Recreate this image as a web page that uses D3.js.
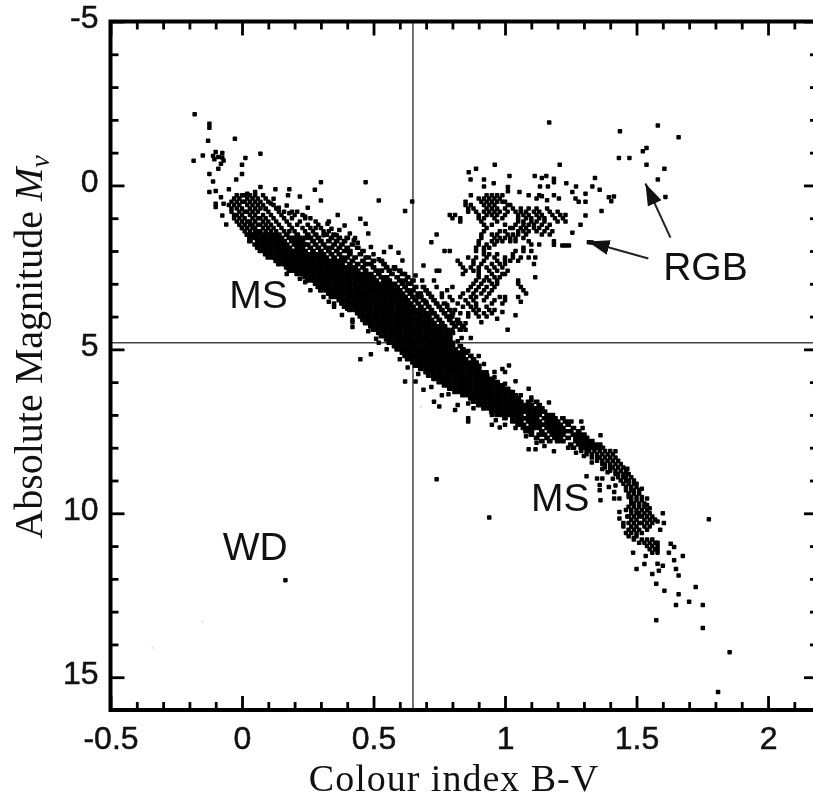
<!DOCTYPE html>
<html>
<head>
<meta charset="utf-8">
<script src="https://cdn.jsdelivr.net/npm/d3@7"></script>
<style>
html,body{margin:0;padding:0;background:#fff;overflow:hidden}
svg{display:block;filter:blur(0.45px)}
text{fill:#111}
</style>
</head>
<body>
<svg id="chart" width="813" height="801"></svg>
<script>
// Tick values
const xMajorTicks = [-0.5,0,0.5,1,1.5,2];
const xMinorTicks = [-0.4,-0.3,-0.2,-0.1,0.1,0.2,0.3,0.4,0.6,0.7,0.8,0.9,1.1,1.2,1.3,1.4,1.6,1.7,1.8,1.9,2.1];
const yMajorTicks = [-5,0,5,10,15];
const yMinorTicks = [-4,-3,-2,-1,1,2,3,4,6,7,8,9,11,12,13,14];
const referenceBV = 0.65, referenceMv = 4.8;

// Isolated stars: [B-V, Mv]
const hotOutliers = [[-.18,-2.17],[-.124,-1.88],[-.124,-1.76],[-.129,-1.36],[-.027,-1.42],[-.184,-.75],[-.149,-.91],[-.10,-1.02],[-.11,-.90],[-.075,-.99],[-.09,-.87],[-.07,-.76],[-.08,-.66],[-.09,-.51],[-.075,-.85],[-.105,-.8],[.07,-.97],[.013,-.84],[0,-.63],[0,-.35],[-.022,-.18],[-.124,-.35],[-.11,-.12],[-.124,.2],[-.10,.17],[-.05,.12],[-.075,.92],[-.06,1.19],[-.10,.56],[-.10,.66],[-.08,.36],[-.07,.56]];
const upperFringe = [[.30,-.1],[.47,-.1],[.52,.46],[.647,.49],[.62,.78],[.72,1.73],[.30,.46],[.22,.34],[.277,.13],[.18,.12],[.127,.12],[.07,.05],[.175,.3],[.12,.41],[.17,.61],[.25,.68],[.364,.9],[.45,1.02],[.47,1.17],[.39,1.22],[.325,1.17],[.34,1.32],[.31,1.52],[.36,1.52],[.41,1.47],[.48,1.47],[.425,1.67],[.565,1.88],[.595,2.05],[.54,2.03],[.49,1.88],[.69,2.44],[.61,2.29],[.55,2.49],[.74,2.6],[.73,2.9],[.74,3.1],[.685,2.9],[.67,3.4],[.68,3.3]];
const lowerFringe = [[.49,5.15],[.45,5.3],[.26,3.2],[.17,2.7],[.35,3.6],[.35,3.7],[.40,3.76],[.42,4.17],[.42,4.32],[.51,4.68],[.62,5.98],[.66,5.98],[.69,6.23],[.73,6.6],[.75,6.74],[.81,6.85],[.86,7.1],[.86,7.2],[.785,6.37],[.86,6.65],[.95,7.3],[.98,7.38],[.965,7.16],[1.09,8.05],[1.116,8.05],[1.186,8.11],[.74,8.96],[.94,10.13],[.165,12.04]];
const coolTail = [[.96,5.69],[1.015,5.49],[1.0,5.69],[.99,5.6],[1.04,5.97],[1.09,6.2],[1.1,6.47],[1.167,6.62],[1.29,7.2],[1.295,7.4],[1.363,7.62],[1.42,8.11],[1.465,8.64],[1.465,8.8],[1.31,8.87],[1.35,8.94],[1.37,8.94],[1.36,9.14],[1.36,9.3],[1.363,9.6],[1.395,9.2],[1.415,9.35],[1.415,9.55],[1.435,9.55],[1.54,9.75],[1.435,9.96],[1.435,10.16],[1.45,10.4],[1.465,10.1],[1.604,10.3],[1.59,10.5],[1.57,10.2],[1.775,10.18],[1.63,10.93],[1.643,11.03],[1.623,11.2],[1.676,11.3],[1.643,11.43],[1.487,11.2],[1.535,11.3],[1.5,11.7],[1.53,11.55],[1.56,11.85],[1.65,11.7],[1.66,11.9],[1.58,11.54],[1.6,11.6],[1.585,11.75],[1.575,12.15],[1.606,12.36],[1.66,12.47],[1.725,12.25],[1.70,12.7],[1.752,12.8],[1.65,12.8],[1.575,13.26],[1.752,13.5],[1.854,14.24],[1.81,15.45]];
const giantOutliers = [[1.168,-1.92],[1.437,-1.65],[1.581,-1.83],[1.66,-1.47],[1.538,-1.14],[1.524,-1.04],[1.433,-.84],[1.473,-.84],[1.538,-.63],[1.606,-.51],[1.581,-.18],[1.61,.35],[.961,-.63],[1.208,-.63],[.89,-.51],[.862,-.4],[.869,-.18],[.92,-.18],[.92,.03],[.957,-.07],[1.017,-.29],[1.011,.05],[1.011,.18],[1.055,.2],[1.113,-.29],[1.14,-.23],[1.157,-.29],[1.186,-.2],[1.186,-.1],[1.133,.03],[1.163,.03],[1.233,-.07],[1.27,.03],[1.342,-.23],[1.332,.03],[1.36,.13],[1.256,.2],[1.268,.4],[1.28,.5],[1.306,.25],[1.306,.5],[1.395,.36],[1.414,.34],[1.404,.48],[1.367,.78],[1.306,.92],[1.287,1.2],[1.256,1.44],[1.319,1.73],[1.33,1.74],[1.23,1.83],[1.243,1.83],[1.218,1.83],[1.186,1.81],[1.186,1.7],[1.14,.33],[1.16,.45],[1.186,.3],[1.205,.4],[1.05,3.4],[1.08,3.3],[1.06,3.55],[1.04,3.96],[1.01,4.4],[.835,4.65],[.91,4.17],[.97,4.07],[.99,3.86]];
const bandEdgeStars = [[.02,.25],[.05,.2],[.11,.55],[.14,.68],[.09,.72],[.18,.85],[.24,.95],[.28,1.3],[.33,1.1],[.37,1.36],[.43,1.6],[.44,1.75],[.5,2.1],[.47,2.2],[.52,2.25],[.58,2.55],[.62,2.7],[.66,2.75],[.63,3.0],[.7,3.55],[.72,3.9],[.76,3.4],[.78,3.65],[.8,4.0],[.83,4.2],[.85,4.4],[.87,4.65],[.82,4.75],[.86,5.05],[.9,5.2],[.92,5.45],[.93,5.7],[.96,5.85],[1.0,6.05],[1.03,6.3],[1.06,6.4],[1.1,6.55],[.0,1.3],[.03,1.5],[.06,1.75],[.09,2.0],[.12,2.2],[.15,2.35],[.19,2.6],[.22,2.85],[.24,2.95],[.31,3.4],[.33,3.55],[.38,3.95],[.42,4.1],[.48,4.45],[.52,4.8],[.55,5.0],[.6,5.3],[.63,5.55],[.67,5.75],[.72,6.15],[.76,6.4],[.82,6.7],[.88,6.8],[.95,7.0],[1.0,7.3],[1.04,7.4],[1.08,7.65],[1.12,7.85],[1.15,7.95],[1.2,7.7],[1.24,8.0],[1.27,8.15],[1.3,8.25],[1.33,8.45],[1.37,8.65],[1.39,8.75],[1.41,8.95],[1.42,9.15],[1.52,9.25],[1.54,9.55],[1.55,9.85],[1.58,10.25],[1.6,10.0],[1.45,10.3],[1.49,10.75],[1.46,10.6]];
const faintSpecks = [[-.34,14.1],[-.15,13.3],[.68,6.75]];

// Giant branch, read row by row: [Mv, B-V, B-V, ...]
const giantRows = [
[.3,.87,.93,.95,.97,.99,1.09,1.13],
[.4,.90,.92,.94,.96,.98,1.12],
[.5,.85,.91,.93,.95,.97,.99,1.0],
[.6,.85,.87,.92,.94,.96,1.01,1.02],
[.7,.86,.88,.93,.95,.97,1.0,1.03,1.06,1.09,1.12,1.16],
[.8,.86,.89,.92,.94,.96,.98,1.01,1.04,1.06,1.08,1.11,1.13,1.17,1.2],
[.9,.79,.81,.90,.93,.95,.97,1.0,1.05,1.07,1.09,1.12,1.14,1.18,1.21,1.23],
[1.0,.80,.83,.90,.92,.96,.99,1.05,1.08,1.1,1.13,1.15,1.19,1.22],
[1.1,.83,.91,.97,1.05,1.07,1.1,1.12,1.15,1.2,1.23],
[1.2,.92,.95,1.0,1.04,1.07,1.09,1.11,1.14,1.17],
[1.3,.93,1.02,1.03,1.06,1.08,1.11,1.13,1.16],
[1.4,.92,.98,1.0,1.05,1.07,1.09,1.12,1.15,1.18],
[1.5,.74,.91,.95,.97,1.01,1.03,1.05,1.08,1.14,1.17],
[1.6,.91,.96,.98,1.0,1.02,1.04,1.07],
[1.7,.90,.95,.97,.99,1.02,1.04,1.09],
[1.8,.90,.93,.96,1.1,1.13],
[1.9,.89,.92,.94,1.07],
[2.0,.77,.79,.89,.92,1.04,1.07,1.1],
[2.1,.92,.94,.97,1.03],
[2.2,.86,.89,.93,.96,1.0,1.03,1.06,1.09,1.115],
[2.3,.82,.88,.92,.97,1.0,1.02,1.05],
[2.4,.83,.88,.91,.95,.98,1.0,1.11],
[2.5,.84,.87,.9,.93,.96,.99],
[2.6,.75,.85,.88,.9,.94,.97,1.01],
[2.7,.84,.9,.95,.99,1.0],
[2.8,.9,.93,.96,.98,1.115],
[2.9,.89,.92,.94,.97,1.05],
[3.0,.88,.91,.95,.97,1.05],
[3.1,.8,.87,.9,.93,.96,1.06],
[3.2,.78,.86,.89,.92,.95,1.07],
[3.3,.76,.84,.88,.91,.94],
[3.4,.79,.83,.87,.89,.93,.98,1.0],
[3.5,.8,.85,.88,.92,.96,1.0],
[3.6,.82,.86,.89,.95,.99],
[3.7,.78,.84,.87,.89,.93],
[3.8,.81,.88,.9,.94,.96],
[3.9,.83,.86,.89,.92,.95],
[4.0,.79,.86,.9,.93],
[4.2,.82,.85],
[4.4,.8,.83]
];

// Upper main sequence, read row by row: [Mv, B-V, B-V, ...]
const upperBandRows = [
[.3,-.02,.0,.01,.03,.05,.08],
[.4,-.03,-.01,.02,.04,.06,.09],
[.5,-.04,-.02,.0,.01,.03,.05,.07,.1],
[.6,-.05,-.03,-.01,.02,.04,.06,.08,.12],
[.7,-.04,-.02,.0,.03,.05,.07,.09,.13],
[.8,-.04,-.01,.01,.02,.04,.06,.1,.14,.16,.19,.21],
[.9,-.03,-.02,.0,.03,.05,.08,.11,.15,.2,.23],
[1.0,-.03,-.01,.01,.04,.06,.07,.09,.12,.16,.19,.24,.26],
[1.1,-.02,.0,.02,.03,.05,.08,.1,.13,.17,.22,.28],
[1.2,-.01,.01,.03,.04,.06,.07,.09,.11,.14,.18,.21,.25,.29],
[1.3,.0,.02,.04,.05,.08,.1,.12,.15,.19,.23,.26,.3],
[1.4,.01,.03,.05,.06,.07,.09,.11,.13,.16,.18,.2,.24,.27,.31,.33],
[1.5,.02,.04,.06,.08,.1,.12,.14,.17,.21,.25,.28,.32,.35],
[1.6,.03,.05,.07,.09,.11,.13,.15,.18,.2,.22,.24,.26,.29,.34,.37,.4],
[1.7,.03,.06,.08,.1,.12,.14,.16,.19,.21,.23,.27,.3,.33,.36,.39],
[1.8,.05,.07,.09,.11,.13,.15,.17,.2,.22,.24,.25,.28,.31,.35,.38,.42],
[1.9,.06,.08,.1,.12,.14,.16,.18,.21,.23,.26,.29,.32,.34,.37,.4,.44],
[2.0,.07,.09,.11,.13,.15,.17,.19,.2,.22,.24,.27,.3,.33,.36,.39,.41,.46],
[2.1,.09,.11,.13,.15,.17,.19,.21,.23,.25,.27,.29,.31,.34,.37,.41,.45],
[2.2,.10,.12,.14,.16,.18,.20,.22,.24,.26,.28,.30,.32,.35,.38,.40,.43,.48],
[2.3,.13,.15,.17,.19,.21,.23,.25,.27,.29,.31,.33,.35,.37,.39,.42,.46,.5,.53],
[2.4,.14,.16,.18,.20,.22,.24,.26,.28,.30,.32,.34,.36,.38,.41,.44,.47,.49,.54],
[2.5,.17,.19,.21,.23,.25,.27,.29,.31,.33,.35,.37,.39,.41,.43,.46,.5,.55,.58],
[2.6,.18,.20,.22,.24,.26,.28,.30,.32,.34,.36,.38,.40,.42,.44,.47,.51,.53,.56,.6],
[2.7,.21,.23,.25,.27,.29,.31,.33,.35,.37,.39,.41,.43,.45,.47,.49,.52,.57,.61],
[2.8,.24,.26,.28,.30,.32,.34,.36,.38,.40,.42,.44,.46,.48,.50,.53,.55,.59,.63],
[2.9,.25,.27,.29,.31,.33,.35,.37,.39,.41,.43,.45,.47,.49,.51,.54,.56,.6,.62,.65],
[3.0,.28,.30,.32,.34,.36,.38,.40,.42,.44,.46,.48,.50,.52,.54,.56,.58,.61,.64],
[3.1,.29,.31,.33,.35,.37,.39,.41,.43,.45,.47,.49,.51,.53,.55,.57,.59,.62,.66,.69],
[3.2,.30,.32,.34,.36,.38,.40,.42,.44,.46,.48,.50,.52,.54,.56,.58,.60,.63,.65,.7],
[3.3,.33,.35,.37,.39,.41,.43,.45,.47,.49,.51,.53,.55,.57,.59,.61,.64,.67,.71],
[3.4,.34,.36,.38,.40,.42,.44,.46,.48,.50,.52,.54,.56,.58,.60,.62,.65,.68,.72],
[3.5,.37,.39,.41,.43,.45,.47,.49,.51,.53,.55,.57,.59,.61,.63,.66,.69,.73],
[3.6,.38,.40,.42,.44,.46,.48,.50,.52,.54,.56,.58,.60,.62,.64,.67,.7,.74,.77],
[3.7,.39,.41,.43,.45,.47,.49,.51,.53,.55,.57,.59,.61,.63,.65,.68,.71,.75],
[3.8,.41,.43,.45,.47,.49,.51,.53,.55,.57,.59,.61,.63,.65,.67,.69,.72,.76,.79],
[3.9,.44,.46,.48,.50,.52,.54,.56,.58,.60,.62,.64,.66,.68,.7,.73,.77,.8],
[4.0,.45,.47,.49,.51,.53,.55,.57,.59,.61,.63,.65,.67,.69,.71,.74,.78],
[4.1,.46,.48,.50,.52,.54,.56,.58,.60,.62,.64,.66,.68,.70,.72,.75,.79,.82],
[4.2,.47,.49,.51,.53,.55,.57,.59,.61,.63,.65,.67,.69,.71,.73,.76,.8],
[4.3,.49,.51,.53,.55,.57,.59,.61,.63,.65,.67,.69,.71,.73,.75,.77,.81,.84],
[4.4,.50,.52,.54,.56,.58,.60,.62,.64,.66,.68,.70,.72,.74,.76,.78,.83],
[4.5,.52,.54,.56,.58,.60,.62,.64,.66,.68,.70,.72,.74,.76,.78,.8],
[4.6,.53,.55,.57,.59,.61,.63,.65,.67,.69,.71,.73,.75,.77,.79],
[4.7,.55,.57,.59,.61,.63,.65,.67,.69,.71,.73,.75,.77,.79],
[4.8,.56,.58,.60,.62,.64,.66,.68,.70,.72,.74,.76,.78,.80],
[4.9,.58,.60,.62,.64,.66,.68,.70,.72,.74,.76,.78,.80,.83],
[5.0,.59,.61,.63,.65,.67,.69,.71,.73,.75,.77,.79,.81,.84],
[5.1,.61,.63,.65,.67,.69,.71,.73,.75,.77,.79,.81,.83,.85],
[5.2,.62,.64,.66,.68,.70,.72,.74,.76,.78,.80,.82,.84,.87],
[5.3,.63,.65,.67,.69,.71,.73,.75,.77,.79,.81,.83,.85,.88],
[5.4,.65,.67,.69,.71,.73,.75,.77,.79,.81,.83,.85,.87,.89]
];

// Lower main sequence, read row by row: [Mv, B-V, B-V, ...]
const lowerBandRows = [
[5.5,.66,.68,.70,.72,.74,.76,.78,.80,.82,.84,.86,.88,.90],
[5.6,.68,.70,.72,.74,.76,.78,.80,.82,.84,.86,.88,.90],
[5.7,.70,.72,.74,.76,.78,.80,.82,.84,.86,.88,.90,.92],
[5.8,.71,.73,.75,.77,.79,.81,.83,.85,.87,.89,.91,.93],
[5.9,.73,.75,.77,.79,.81,.83,.85,.87,.89,.91,.93,.95],
[6.0,.75,.77,.79,.81,.83,.85,.87,.89,.91,.93,.95,.97],
[6.1,.77,.79,.81,.83,.85,.87,.89,.91,.93,.95,.97,.99],
[6.2,.79,.81,.83,.85,.87,.89,.91,.93,.95,.97,.99,1.01],
[6.3,.81,.83,.85,.87,.89,.91,.93,.95,.97,.99,1.01,1.02],
[6.4,.84,.86,.88,.90,.92,.94,.96,.98,1.0,1.02,1.04],
[6.5,.87,.89,.91,.93,.95,.97,.99,1.01,1.03,1.05],
[6.6,.88,.90,.92,.94,.96,.98,1.0,1.02,1.04,1.06,1.09,1.12],
[6.7,.90,.92,.94,.96,.98,1.0,1.02,1.04,1.06,1.08,1.1,1.13],
[6.8,.92,.94,.96,.98,1.0,1.02,1.04,1.06,1.08,1.1,1.12,1.14],
[6.9,.95,.97,.99,1.01,1.03,1.05,1.07,1.09,1.11,1.13,1.15],
[7.0,.97,.99,1.0,1.02,1.04,1.06,1.09,1.11,1.13,1.16,1.18],
[7.1,1.0,1.03,1.05,1.07,1.08,1.1,1.12,1.15,1.17,1.19,1.22],
[7.2,1.03,1.05,1.06,1.09,1.11,1.13,1.16,1.18,1.2,1.23,1.25],
[7.3,1.05,1.07,1.1,1.12,1.14,1.15,1.17,1.19,1.21,1.24],
[7.4,1.07,1.09,1.11,1.13,1.16,1.18,1.2,1.22,1.26],
[7.5,1.08,1.1,1.14,1.17,1.19,1.21,1.23,1.25,1.28],
[7.6,1.1,1.13,1.15,1.18,1.2,1.22,1.26,1.28,1.3],
[7.7,1.12,1.16,1.19,1.21,1.24,1.27,1.29,1.31],
[7.8,1.14,1.17,1.2,1.22,1.27,1.29,1.31,1.33],
[7.9,1.25,1.28,1.3,1.32,1.34,1.36],
[8.0,1.26,1.29,1.31,1.33,1.35,1.37],
[8.1,1.29,1.31,1.32,1.34,1.36,1.38,1.4],
[8.2,1.31,1.33,1.35,1.37,1.39,1.41],
[8.3,1.33,1.35,1.36,1.38,1.4,1.42],
[8.4,1.35,1.37,1.39,1.41,1.43],
[8.5,1.37,1.38,1.4,1.42,1.44],
[8.6,1.38,1.4,1.41,1.43,1.45],
[8.7,1.4,1.42,1.44,1.46],
[8.8,1.42,1.43,1.45,1.47],
[8.9,1.43,1.45,1.46,1.48],
[9.0,1.44,1.46,1.47,1.49],
[9.1,1.45,1.47,1.49,1.5],
[9.2,1.46,1.48,1.5],
[9.3,1.46,1.48,1.49,1.51],
[9.4,1.47,1.49,1.51],
[9.5,1.47,1.48,1.5,1.52],
[9.6,1.48,1.5,1.52],
[9.7,1.48,1.49,1.51,1.53],
[9.8,1.47,1.49,1.51,1.53],
[9.9,1.46,1.48,1.5,1.52,1.54],
[10.0,1.48,1.5,1.51,1.53,1.55],
[10.1,1.47,1.49,1.51,1.52,1.54,1.56],
[10.2,1.48,1.5,1.53,1.55,1.57],
[10.3,1.47,1.49,1.51,1.52,1.54,1.56],
[10.4,1.48,1.5,1.53,1.55],
[10.5,1.47,1.49,1.51,1.54],
[10.6,1.48,1.5,1.52],
[10.7,1.47,1.5],
[10.8,1.49,1.52,1.54,1.56],
[10.9,1.51,1.53,1.55,1.57,1.58],
[11.0,1.54,1.56,1.58],
[11.1,1.55,1.57,1.58],
[11.2,1.56,1.58]
];

function fromRows(rows){ return rows.flatMap(r => r.slice(1).map(bv => [bv, r[0]])); }
const rowStars = [...fromRows(upperBandRows), ...fromRows(lowerBandRows)];
// Only the saturated core is drawn with the wider overlapping marker
const bandStars = rowStars.filter(d => d[1] >= 1.5 && d[1] <= 8);
const sparseStars = [...hotOutliers, ...upperFringe, ...lowerFringe, ...coolTail, ...giantOutliers, ...bandEdgeStars, ...fromRows(giantRows),
  ...rowStars.filter(d => d[1] < 1.5 || d[1] > 8)];

const labelNotes = [
  {text:"MS", bv:0.063, mv:3.75},
  {text:"MS", bv:1.21, mv:9.94},
  {text:"WD", bv:0.05, mv:11.43},
  {text:"RGB", bv:1.762, mv:2.87}
];
const arrowNotes = [
  {from:[1.545,2.23], to:[1.314,1.71]},
  {from:[1.629,1.59], to:[1.534,-.06]}
];

const svg = d3.select("#chart");
const x = d3.scaleLinear().domain([-0.5,2.19]).range([110.5,818]);
const y = d3.scaleLinear().domain([-5,16]).range([21.5,710]);
const sans = "'Liberation Sans',Arial,sans-serif", serif = "'Liberation Serif','Times New Roman',serif";

// Reference lines
svg.append("line").attr("x1",x(referenceBV)).attr("x2",x(referenceBV)).attr("y1",y(-5)).attr("y2",y(16)).attr("stroke","#444").attr("stroke-width",1.5);
svg.append("line").attr("x1",x(-0.5)).attr("x2",x(2.19)).attr("y1",y(referenceMv)).attr("y2",y(referenceMv)).attr("stroke","#444").attr("stroke-width",1.5);

// Stars
const dot = 4.5, bandW = 5.8, bandH = 4.6;
svg.append("g").selectAll("rect").data(faintSpecks).join("rect")
  .attr("x",d=>x(d[0])-1).attr("y",d=>y(d[1])-1).attr("width",2).attr("height",2).attr("fill","#ddd");
svg.append("g").selectAll("rect").data(bandStars).join("rect")
  .attr("x",d=>x(d[0])-bandW/2).attr("y",d=>y(d[1])-bandH/2)
  .attr("width",bandW).attr("height",bandH).attr("rx",0.8).attr("fill","#000");
svg.append("g").selectAll("rect").data(sparseStars).join("rect")
  .attr("x",d=>x(d[0])-dot/2).attr("y",d=>y(d[1])-dot/2)
  .attr("width",dot).attr("height",dot).attr("rx",0.8).attr("fill","#000");

// Axes
function styleAxis(g){
  g.select(".domain").remove();
  g.selectAll(".tick line").attr("stroke","#000").attr("stroke-width",2.8);
  g.selectAll("text").attr("font-family",sans).attr("font-size",32).attr("fill","#111").attr("stroke","#111").attr("stroke-width",0.5);
}
const tickText = d => String(d);
const minorSize = 8, majorSize = 14;
svg.append("g").attr("transform",`translate(0,${y(16)})`)
  .call(d3.axisBottom(x).tickValues(xMajorTicks).tickSizeInner(-majorSize).tickSizeOuter(0).tickPadding(16).tickFormat(tickText))
  .call(styleAxis);
svg.append("g").attr("transform",`translate(0,${y(16)})`)
  .call(d3.axisBottom(x).tickValues(xMinorTicks).tickSize(-minorSize).tickFormat("")).call(styleAxis);
svg.append("g").attr("transform",`translate(0,${y(-5)})`)
  .call(d3.axisTop(x).tickValues(xMajorTicks).tickSize(-majorSize).tickFormat("")).call(styleAxis);
svg.append("g").attr("transform",`translate(0,${y(-5)})`)
  .call(d3.axisTop(x).tickValues(xMinorTicks).tickSize(-minorSize).tickFormat("")).call(styleAxis);
const leftG = svg.append("g").attr("transform",`translate(${x(-0.5)},0)`)
  .call(d3.axisLeft(y).tickValues(yMajorTicks).tickSizeInner(-majorSize).tickSizeOuter(0).tickPadding(12).tickFormat(tickText))
  .call(styleAxis);
leftG.selectAll("text").attr("dy","0.19em");
svg.append("g").attr("transform",`translate(${x(-0.5)},0)`)
  .call(d3.axisLeft(y).tickValues(yMinorTicks).tickSize(-minorSize).tickFormat("")).call(styleAxis);
svg.append("g").attr("transform",`translate(${x(2.19)},0)`)
  .call(d3.axisRight(y).tickValues(yMajorTicks).tickSize(-majorSize).tickFormat("")).call(styleAxis);
svg.append("g").attr("transform",`translate(${x(2.19)},0)`)
  .call(d3.axisRight(y).tickValues(yMinorTicks).tickSize(-minorSize).tickFormat("")).call(styleAxis);

// Frame
svg.append("rect").attr("x",x(-0.5)).attr("y",y(-5)).attr("width",x(2.19)-x(-0.5)).attr("height",y(16)-y(-5))
  .attr("fill","none").attr("stroke","#000").attr("stroke-width",4);

// Annotations
svg.append("g").selectAll("text").data(labelNotes).join("text")
  .attr("x",d=>x(d.bv)).attr("y",d=>y(d.mv)).attr("text-anchor","middle")
  .attr("font-family",sans).attr("font-size",39).attr("fill","#222").text(d=>d.text);

const defs = svg.append("defs");
defs.append("marker").attr("id","head").attr("viewBox","0 0 10 10").attr("refX",10).attr("refY",5)
  .attr("markerUnits","userSpaceOnUse").attr("markerWidth",22).attr("markerHeight",15).attr("orient","auto").attr("preserveAspectRatio","none")
  .append("path").attr("d","M0,0L10,5L0,10Z").attr("fill","#111");
svg.append("g").selectAll("line").data(arrowNotes).join("line")
  .attr("x1",d=>x(d.from[0])).attr("y1",d=>y(d.from[1])).attr("x2",d=>x(d.to[0])).attr("y2",d=>y(d.to[1]))
  .attr("stroke","#222").attr("stroke-width",2).attr("marker-end","url(#head)");

// Axis titles
svg.append("text").attr("x",454).attr("y",791).attr("text-anchor","middle").attr("letter-spacing",1)
  .attr("font-family",serif).attr("font-size",38).text("Colour index B-V");
const yt = svg.append("text").attr("transform","translate(42,347) rotate(-90)").attr("text-anchor","middle")
  .attr("font-family",serif).attr("font-size",40);
yt.append("tspan").text("Absolute Magnitude ");
yt.append("tspan").attr("font-style","italic").text("M");
yt.append("tspan").attr("font-style","italic").attr("font-size",28).attr("dy",7).text("v");
</script>
</body>
</html>
